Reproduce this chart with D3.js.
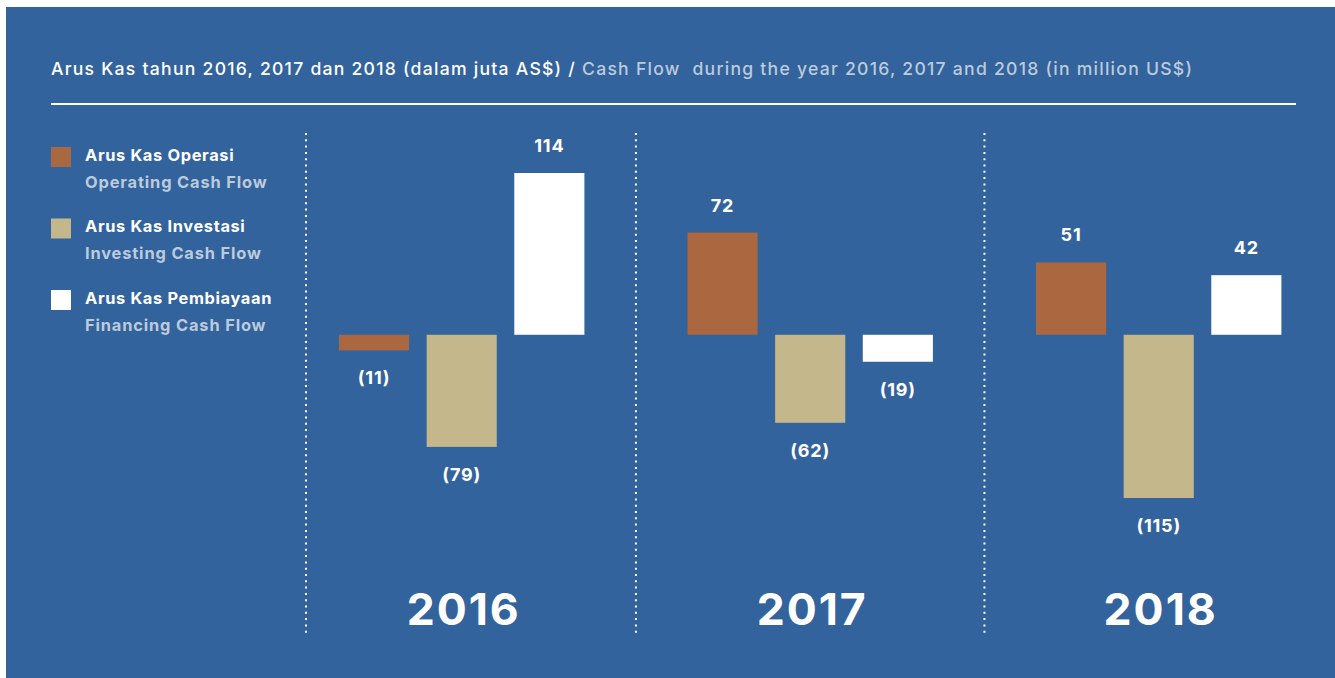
<!DOCTYPE html>
<html>
<head>
<meta charset="utf-8">
<script src="https://cdn.jsdelivr.net/npm/d3@7"></script>
<style>
  html, body { margin: 0; padding: 0; background: #ffffff; }
  svg { display: block; }
  text { font-family: Inter, "Noto Sans", sans-serif; white-space: pre; }
</style>
</head>
<body>
<svg id="chart" width="1335" height="678"></svg>
<script>
// Cash flow by year, in million US$
const years = ["2016", "2017", "2018"];
const seriesKeys = ["operating", "investing", "financing"];
const operating = [-11, 72, 51];
const investing = [-79, -62, -115];
const financing = [114, -19, 42];

const legendMain = ["Arus Kas Operasi", "Arus Kas Investasi", "Arus Kas Pembiayaan"];
const legendSub = ["Operating Cash Flow", "Investing Cash Flow", "Financing Cash Flow"];
const seriesColors = ["#ab6740", "#c4b78c", "#ffffff"];

const titleMain = "Arus Kas tahun 2016, 2017 dan 2018 (dalam juta AS$) / ";
const titleSub = "Cash Flow  during the year 2016, 2017 and 2018 (in million US$)";

const BG = "#33639d";
const SUB = "#bccbdc";

const rows = years.map((yr, i) => ({
  year: yr,
  values: [operating[i], investing[i], financing[i]].map((v, j) => ({ key: seriesKeys[j], value: v, color: seriesColors[j] }))
}));

const svg = d3.select("#chart");

// panel
svg.append("rect").attr("x", 6).attr("y", 7).attr("width", 1335 - 6).attr("height", 678 - 7).attr("fill", BG);

// title
const title = svg.append("text").attr("x", 51).attr("y", 75)
  .attr("font-size", 17.6).attr("font-weight", 500).style("letter-spacing", "1.25px");
title.append("tspan").attr("fill", "#ffffff").text(titleMain);
title.append("tspan").attr("fill", SUB).text(titleSub);

svg.append("line").attr("x1", 51).attr("x2", 1296).attr("y1", 104).attr("y2", 104)
  .attr("stroke", "#ffffff").attr("stroke-width", 2.2);

// legend
const legend = svg.append("g").selectAll("g").data(legendMain).join("g")
  .attr("transform", (d, i) => `translate(51, ${147 + i * 71.5})`);
legend.append("rect").attr("width", 20).attr("height", 20).attr("fill", (d, i) => seriesColors[i]);
legend.append("text").attr("x", 34).attr("y", 13.5).attr("font-size", 16.4).attr("font-weight", 700)
  .attr("fill", "#ffffff").style("letter-spacing", "0.65px").text(d => d);
legend.append("text").attr("x", 34).attr("y", 40.5).attr("font-size", 16.4).attr("font-weight", 700)
  .attr("fill", SUB).style("letter-spacing", "0.85px").text((d, i) => legendSub[i]);

// scales
const x0 = d3.scaleBand().domain(years).range([339, 339 + 3 * 348.5]).padding(0);
const groupWidth = 245.4;
const x1 = d3.scaleBand().domain(seriesKeys).range([0, groupWidth]).paddingInner(0.2).paddingOuter(0);
const allValues = operating.concat(investing, financing);
const y = d3.scaleLinear().domain(d3.extent(allValues)).range([498, 173]);

// dotted separators between year groups
const sepX = years.map((yr, i) => i === 0
  ? x0(yr) - 33
  : (x0(years[i - 1]) + groupWidth + x0(yr)) / 2);
svg.append("g").selectAll("line").data(sepX).join("line")
  .attr("x1", d => d).attr("x2", d => d).attr("y1", 133).attr("y2", 635)
  .attr("stroke", "#ffffff").attr("stroke-width", 2).attr("stroke-dasharray", "2,4.3");

const fmt = v => v < 0 ? `(${Math.abs(v)})` : `${v}`;

const groups = svg.append("g").selectAll("g").data(rows).join("g")
  .attr("transform", d => `translate(${x0(d.year)},0)`);

groups.selectAll("rect").data(d => d.values).join("rect")
  .attr("x", d => x1(d.key))
  .attr("width", x1.bandwidth())
  .attr("y", d => y(Math.max(0, d.value)))
  .attr("height", d => Math.abs(y(d.value) - y(0)))
  .attr("fill", d => d.color);

groups.selectAll("text.val").data(d => d.values).join("text")
  .attr("class", "val")
  .attr("x", d => x1(d.key) + x1.bandwidth() / 2)
  .attr("y", d => d.value >= 0 ? y(d.value) - 21 : y(d.value) + 34)
  .attr("text-anchor", "middle").attr("font-size", 18).attr("font-weight", 700)
  .attr("fill", "#ffffff").style("letter-spacing", "0.8px").text(d => fmt(d.value));

// year labels
groups.append("text")
  .attr("x", groupWidth / 2 + 2)
  .attr("y", 625)
  .attr("text-anchor", "middle").attr("font-size", 44.5).attr("font-weight", 700)
  .attr("fill", "#ffffff").style("letter-spacing", "2px").text(d => d.year);
</script>
</body>
</html>
